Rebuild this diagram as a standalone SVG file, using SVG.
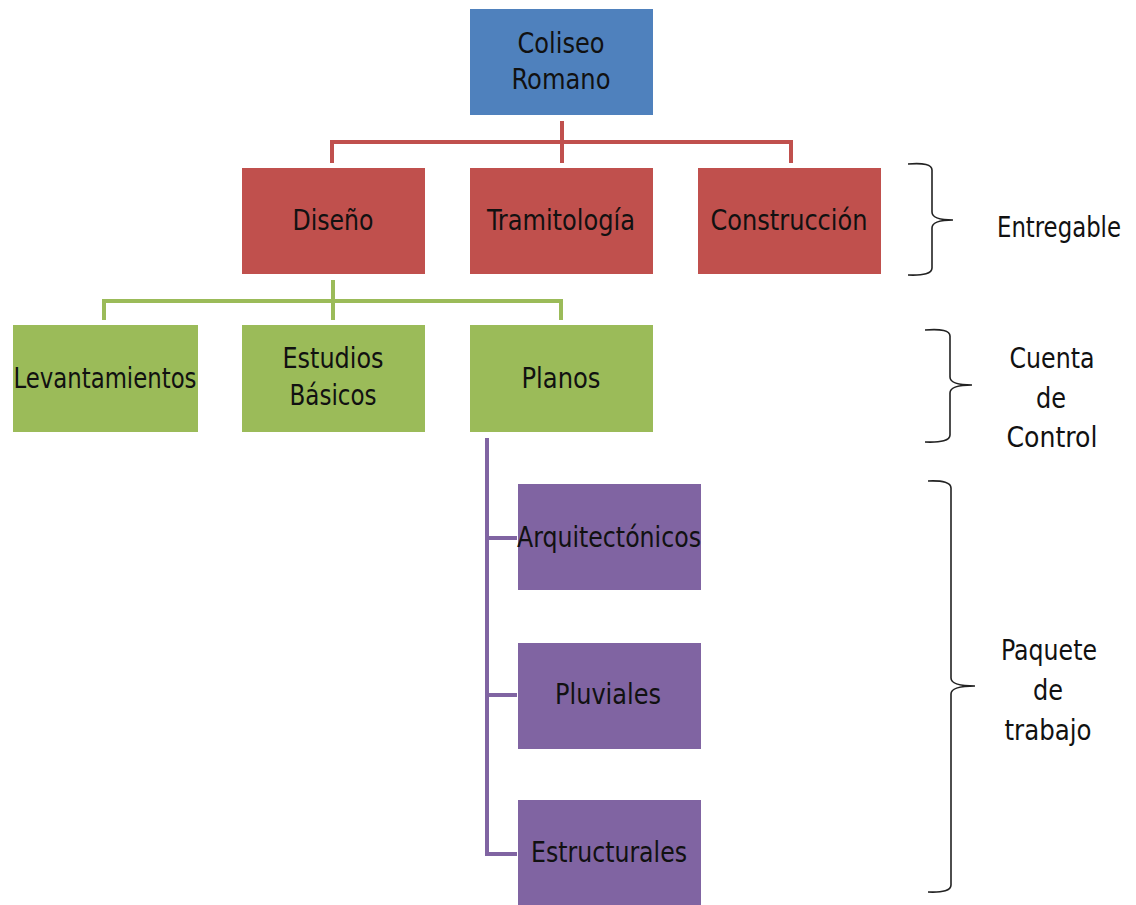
<svg xmlns="http://www.w3.org/2000/svg" width="1136" height="905" viewBox="0 0 1136 905">
  <style>
    text { font-family: "Liberation Sans Narrow", "DejaVu Sans Condensed", "Liberation Sans", sans-serif; font-size: 29px; fill: #111; text-anchor: middle; }
    .blue { fill: #4F81BD; }
    .red { fill: #C0504D; }
    .green { fill: #9BBB59; }
    .purple { fill: #8064A2; }
    .c-red { stroke: #C0504D; }
    .c-green { stroke: #9BBB59; }
    .c-purple { stroke: #8064A2; }
    .conn path { fill: none; stroke-width: 4; }
    .brace { fill: none; stroke: #222; stroke-width: 1.6; }
  </style>
  <rect width="1136" height="905" fill="#fff"/>

  <g id="connectors" class="conn">
    <path class="c-red" d="M562 121 V163 M332 163 V142 H791 V163"/>
    <path class="c-green" d="M333 280 V320 M104 320 V301 H561 V320"/>
    <path class="c-purple" d="M487 438 V854 H517 M487 538 H517 M487 695 H517"/>
  </g>

  <g id="coliseo">
    <rect class="blue" x="470" y="9" width="183" height="106"/>
    <text x="561" y="53" textLength="87" lengthAdjust="spacingAndGlyphs">Coliseo</text>
    <text x="561" y="89" textLength="99" lengthAdjust="spacingAndGlyphs">Romano</text>
  </g>

  <g id="diseno">
    <rect class="red" x="242" y="168" width="183" height="106"/>
    <text x="333" y="230" textLength="81" lengthAdjust="spacingAndGlyphs">Diseño</text>
  </g>
  <g id="tramitologia">
    <rect class="red" x="470" y="168" width="183" height="106"/>
    <text x="561" y="230" textLength="148" lengthAdjust="spacingAndGlyphs">Tramitología</text>
  </g>
  <g id="construccion">
    <rect class="red" x="698" y="168" width="183" height="106"/>
    <text x="789" y="230" textLength="157" lengthAdjust="spacingAndGlyphs">Construcción</text>
  </g>

  <g id="levantamientos">
    <rect class="green" x="13" y="325" width="185" height="107"/>
    <text x="105" y="388" textLength="183" lengthAdjust="spacingAndGlyphs">Levantamientos</text>
  </g>
  <g id="estudios">
    <rect class="green" x="242" y="325" width="183" height="107"/>
    <text x="333" y="368" textLength="101" lengthAdjust="spacingAndGlyphs">Estudios</text>
    <text x="333" y="405" textLength="87" lengthAdjust="spacingAndGlyphs">Básicos</text>
  </g>
  <g id="planos">
    <rect class="green" x="470" y="325" width="183" height="107"/>
    <text x="561" y="388" textLength="79" lengthAdjust="spacingAndGlyphs">Planos</text>
  </g>

  <g id="arquitectonicos">
    <rect class="purple" x="518" y="484" width="183" height="106"/>
    <text x="609" y="547" textLength="184" lengthAdjust="spacingAndGlyphs">Arquitectónicos</text>
  </g>
  <g id="pluviales">
    <rect class="purple" x="518" y="643" width="183" height="106"/>
    <text x="608" y="704" textLength="106" lengthAdjust="spacingAndGlyphs">Pluviales</text>
  </g>
  <g id="estructurales">
    <rect class="purple" x="518" y="800" width="183" height="110"/>
    <text x="609" y="862" textLength="156" lengthAdjust="spacingAndGlyphs">Estructurales</text>
  </g>

  <g id="entregable">
    <path class="brace" d="M908 164 Q932 162 932 170 V212 Q932 220 953 220 Q932 220 932 228 V268 Q932 276 908 275"/>
    <text x="1059" y="237" textLength="124" lengthAdjust="spacingAndGlyphs">Entregable</text>
  </g>
  <g id="cuenta-control">
    <path class="brace" d="M925 330 Q950 328 950 336 V377 Q950 385 972 385 Q950 385 950 393 V435 Q950 443 925 442"/>
    <text x="1052" y="368" textLength="85" lengthAdjust="spacingAndGlyphs">Cuenta</text>
    <text x="1051" y="408" textLength="30" lengthAdjust="spacingAndGlyphs">de</text>
    <text x="1052" y="447" textLength="91" lengthAdjust="spacingAndGlyphs">Control</text>
  </g>
  <g id="paquete-trabajo">
    <path class="brace" d="M928 481 Q951 480 951 488 V678 Q951 686 975 686 Q951 686 951 694 V885 Q951 893 928 892"/>
    <text x="1049" y="660" textLength="96" lengthAdjust="spacingAndGlyphs">Paquete</text>
    <text x="1048" y="700" textLength="30" lengthAdjust="spacingAndGlyphs">de</text>
    <text x="1048" y="740" textLength="87" lengthAdjust="spacingAndGlyphs">trabajo</text>
  </g>
</svg>
